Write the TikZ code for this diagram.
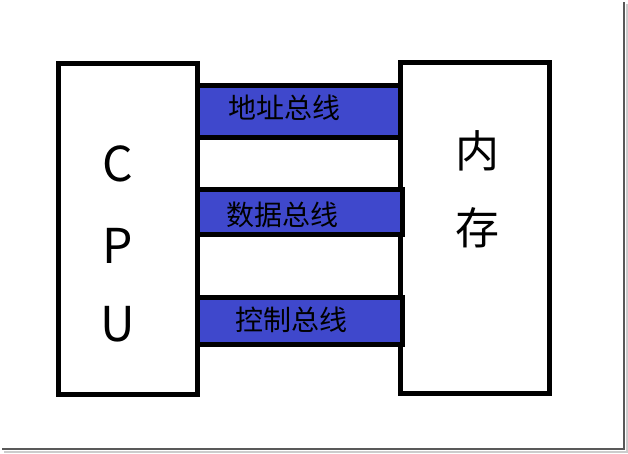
\documentclass[tikz,border=0pt]{standalone}
\usepackage{fontspec}
\setmainfont{Noto Sans CJK SC}
\usepackage{tikz}
\usetikzlibrary{positioning}
\definecolor{busc}{HTML}{3F48CC}

\begin{document}
\begin{tikzpicture}[x=1pt, y=-1pt,
  unitbox/.style={draw=black, line width=5pt, fill=white, inner sep=0pt},
  busbar/.style={draw=black, line width=5pt, fill=busc, inner sep=0pt, minimum width=202.5pt},
  buslabel/.style={font=\fontsize{28}{32}\selectfont, text=black, inner sep=0pt},
  bigchar/.style={font=\fontsize{48}{56}\selectfont, inner sep=0pt}]
  \useasboundingbox (0,0) rectangle (628,453);
  % screenshot shadow
  \draw[gray!70!black, line width=2pt] (624,2) -- (624,449) -- (2,449);
  \draw[gray!40, line width=2pt] (626.5,4) -- (626.5,451.5) -- (4,451.5);
  % the two units
  \node[unitbox, minimum width=139pt, minimum height=331pt] (cpu) at (128,229) {};
  \node[unitbox, minimum width=149.5pt, minimum height=331pt] (mem) at (474.75,228) {};
  \foreach \ch/\y in {C/164,P/246,U/324}
    \node[bigchar] (cpu\ch) at (118,\y) {\ch};
  \node[bigchar, font=\fontsize{44}{50}\selectfont] (memA) at (477,151) {内};
  \node[bigchar, font=\fontsize{44}{50}\selectfont] (memB) at (477,228) {存};
  % buses
  \node[busbar, minimum height=52pt] (addr) at (298.75,111.5) {};
  \node[busbar, minimum height=45pt, minimum width=205pt] (data) at (300,212) {};
  \node[busbar, minimum height=47pt, minimum width=205pt] (ctrl) at (300,321) {};
  \node[buslabel] (addrtxt) at (284.5,108) {地址总线};
  \node[buslabel] (datatxt) at (282.5,215) {数据总线};
  \node[buslabel] (ctrltxt) at (291,320) {控制总线};
\end{tikzpicture}
\end{document}
